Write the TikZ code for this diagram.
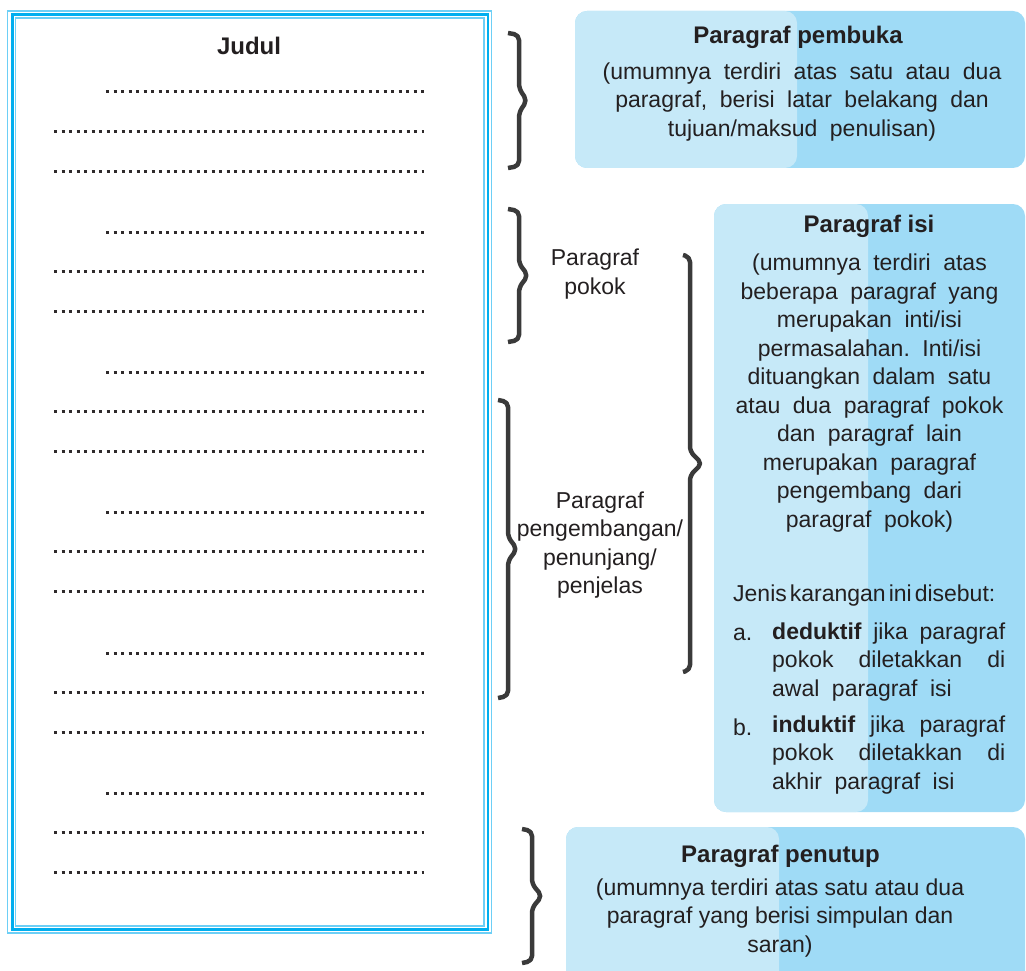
\documentclass[tikz,border=0pt]{standalone}
\usepackage{fontspec}
\setmainfont{Liberation Sans}
\definecolor{framecyan}{HTML}{00AEEF}
\definecolor{framelight}{HTML}{6DCFF6}
\definecolor{boxlight}{HTML}{C6E9F8}
\definecolor{boxdark}{HTML}{9FDBF6}
\definecolor{inkgray}{HTML}{231F20}
\definecolor{bracegray}{HTML}{3A3A3A}
\tikzset{
  txt/.style={font=\fontsize{23}{28.5}\selectfont, text=inkgray, inner sep=0pt},
  ttl/.style={txt, font=\fontsize{24}{28.5}\selectfont\bfseries},
  wide/.style={txt, align=center, execute at begin node={\frenchspacing\spaceskip=12.5pt plus 3pt minus 1pt\relax}},
  dotrow/.style={line width=3pt, inkgray!95, dash pattern=on 3pt off 4.5pt},
  bracket/.style={line width=4.5pt, bracegray, rounded corners=5pt, line join=round},
}
\begin{document}
\begin{tikzpicture}[x=1pt,y=-1pt]
    \useasboundingbox (0,0) rectangle (1026,971);
    % frame of the essay
    \draw[framelight, line width=1.3pt] (7.5,11) rectangle (491.5,933);
    \draw[framecyan, line width=2.6pt] (12.5,14.5) rectangle (488,929.5);
    \draw[framelight, line width=1.2pt] (15.5,18) rectangle (484,926);
    \node[ttl] (judul) at (249,46) {Judul};
    \foreach \y in {92,232,372,512,653,793}{
        \draw[dotrow] (106,\y) -- (424,\y);
        \draw[dotrow] (54,\y+39.5) -- (424,\y+39.5);
        \draw[dotrow] (54,\y+79.5) -- (424,\y+79.5);
    }
    % braces: base x / top / bottom / hook / tip
    \foreach \bx/\yt/\yb/\w/\t in {508/33/168/11/8, 508/209/342/11/9, 498/400/698/10/9, 683/255/672/7/12, 522/829/963/10/10}
        \draw[bracket] (\bx,\yt) -- (\bx+\w,\yt+2) -- (\bx+\w,{(\yt+\yb)/2-12}) -- (\bx+\w+\t,{(\yt+\yb)/2})
            -- (\bx+\w,{(\yt+\yb)/2+12}) -- (\bx+\w,\yb-2) -- (\bx,\yb);
    \node[txt, align=center] (pokok) at (595,274) {Paragraf\\pokok};
    \node[txt, align=center] (kembang) at (600,545) {Paragraf\\pengembangan/\\penunjang/\\penjelas};
    % box pembuka
    \fill[boxdark, rounded corners=12pt] (575,11) rectangle (1025,168);
    \fill[boxlight, rounded corners=12pt] (575,11) rectangle (797,168);
    \node[ttl] (pembuka) at (798,37) {Paragraf pembuka};
    \node[wide] (pembukaisi) at (802,102) {(umumnya terdiri atas satu atau dua\\paragraf, berisi latar belakang dan\\tujuan/maksud penulisan)};
    % box isi
    \fill[boxdark, rounded corners=12pt] (714,204) rectangle (1025,812);
    \fill[boxlight, rounded corners=12pt] (714,204) rectangle (868,812);
    \node[ttl] (isi) at (869,226) {Paragraf isi};
    \node[wide] (isiisi) at (869.5,393) {(umumnya terdiri atas\\beberapa paragraf yang\\merupakan inti/isi\\permasalahan. Inti/isi\\dituangkan dalam satu\\atau dua paragraf pokok\\dan paragraf lain\\merupakan paragraf\\pengembang dari\\paragraf pokok)};
    \node[txt, anchor=west, execute at begin node={\spaceskip=3pt\relax}] (jenis) at (733,596) {Jenis karangan ini disebut:};
    \node[txt, anchor=west] (a) at (733,634) {a.};
    \node[wide, anchor=west, align=left] (deduktif) at (772,662) {\makebox[233pt][s]{\textbf{deduktif} jika paragraf}\\\makebox[233pt][s]{pokok diletakkan di}\\awal paragraf isi};
    \node[txt, anchor=west] (b) at (733,727) {b.};
    \node[wide, anchor=west, align=left] (induktif) at (772,755) {\makebox[233pt][s]{\textbf{induktif} jika paragraf}\\\makebox[233pt][s]{pokok diletakkan di}\\akhir paragraf isi};
    % box penutup
    \fill[boxdark, rounded corners=12pt] (566,827) rectangle (1025,995);
    \fill[boxlight, rounded corners=12pt] (566,827) rectangle (779,995);
    \node[ttl] (penutup) at (780.5,856) {Paragraf penutup};
    \node[txt, align=center] (penutupisi) at (780,918) {(umumnya terdiri atas satu atau dua\\paragraf yang berisi simpulan dan\\saran)};
\end{tikzpicture}
\end{document}
